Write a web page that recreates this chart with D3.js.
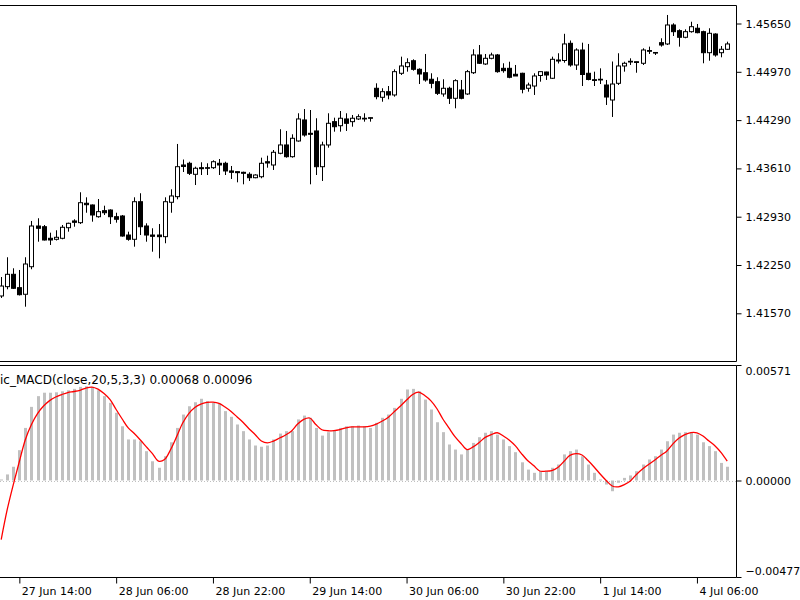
<!DOCTYPE html>
<html><head><meta charset="utf-8">
<script src="https://cdn.jsdelivr.net/npm/d3@7"></script>
<style>body{margin:0;background:#fff}svg{display:block}text{font-family:"DejaVu Sans",sans-serif}</style>
</head><body><svg id="c" width="800" height="600"></svg>
<script>
const opens=[1.41814,1.41945,1.42119,1.41931,1.41838,1.42226,1.42799,1.42789,1.42626,1.42612,1.42626,1.42775,1.42870,1.42846,1.43119,1.43095,1.42930,1.43015,1.43024,1.42930,1.42940,1.42672,1.42612,1.43141,1.42799,1.42672,1.42672,1.42649,1.43133,1.43212,1.43658,1.43682,1.43527,1.43620,1.43620,1.43620,1.43682,1.43682,1.43574,1.43564,1.43555,1.43527,1.43479,1.43493,1.43704,1.43658,1.43823,1.43940,1.43775,1.43996,1.44292,1.44104,1.44137,1.43634,1.43940,1.44268,1.44211,1.44306,1.44268,1.44306,1.44316,1.44324,1.44738,1.44611,1.44690,1.44644,1.44949,1.45042,1.45126,1.45005,1.44957,1.44865,1.44831,1.44658,1.44738,1.44597,1.44714,1.44658,1.44957,1.45207,1.45080,1.45160,1.45207,1.45019,1.45019,1.44935,1.44949,1.44738,1.44770,1.44918,1.44967,1.44879,1.45136,1.45129,1.45371,1.45066,1.45277,1.44949,1.44859,1.44865,1.44784,1.44573,1.44808,1.45052,1.45118,1.45112,1.45090,1.45269,1.45242,1.45380,1.45362,1.45629,1.45549,1.45456,1.45535,1.45583,1.45535,1.45239,1.45502,1.45239,1.45287];
const highs=[1.42081,1.42359,1.42204,1.42180,1.42359,1.42870,1.42908,1.42813,1.42705,1.42739,1.42813,1.42846,1.42894,1.43274,1.43203,1.43102,1.43179,1.43085,1.43034,1.42986,1.42954,1.42719,1.43203,1.43260,1.42837,1.42767,1.42827,1.43203,1.43316,1.43954,1.43735,1.43704,1.43634,1.43696,1.43682,1.43724,1.43742,1.43704,1.43644,1.43564,1.43564,1.43555,1.43527,1.43761,1.43789,1.43869,1.44161,1.44137,1.44090,1.44386,1.44446,1.44432,1.44316,1.43986,1.44386,1.44324,1.44418,1.44386,1.44362,1.44372,1.44386,1.44324,1.44808,1.44738,1.44770,1.45005,1.45183,1.45160,1.45146,1.45019,1.45221,1.44949,1.44893,1.44865,1.44760,1.44865,1.44855,1.44996,1.45287,1.45347,1.45221,1.45239,1.45221,1.45090,1.45112,1.45066,1.44957,1.44817,1.44949,1.44972,1.44972,1.45183,1.45231,1.45505,1.45411,1.45301,1.45380,1.45362,1.44972,1.45019,1.44855,1.45115,1.45231,1.45112,1.45160,1.45112,1.45301,1.45324,1.45242,1.45442,1.45770,1.45653,1.45568,1.45568,1.45675,1.45643,1.45549,1.45583,1.45512,1.45333,1.45394];
const lows=[1.41786,1.41908,1.41912,1.41821,1.41663,1.42190,1.42578,1.42595,1.42532,1.42595,1.42612,1.42719,1.42789,1.42827,1.42986,1.42860,1.42916,1.42954,1.42827,1.42846,1.42649,1.42592,1.42508,1.42672,1.42578,1.42437,1.42344,1.42556,1.42986,1.43175,1.43559,1.43517,1.43376,1.43517,1.43517,1.43602,1.43517,1.43517,1.43461,1.43414,1.43386,1.43433,1.43471,1.43471,1.43620,1.43588,1.43809,1.43761,1.43761,1.43986,1.44057,1.43386,1.43517,1.43433,1.43902,1.44127,1.44127,1.44137,1.44197,1.44292,1.44268,1.44268,1.44583,1.44549,1.44583,1.44620,1.44925,1.44972,1.44986,1.44798,1.44831,1.44738,1.44644,1.44620,1.44517,1.44456,1.44583,1.44644,1.44939,1.45080,1.45066,1.45146,1.44957,1.44957,1.44879,1.44911,1.44667,1.44690,1.44644,1.44831,1.44855,1.44869,1.45087,1.45098,1.45042,1.44996,1.44770,1.44850,1.44770,1.44798,1.44503,1.44334,1.44784,1.44972,1.45066,1.44957,1.45066,1.45221,1.45207,1.45324,1.45347,1.45474,1.45324,1.45442,1.45521,1.45512,1.45090,1.45126,1.45183,1.45174,1.45277];
const closes=[1.41954,1.42119,1.41922,1.41832,1.42264,1.42799,1.42767,1.42602,1.42602,1.42640,1.42781,1.42837,1.42851,1.43127,1.43099,1.42954,1.43001,1.42986,1.42930,1.42894,1.42658,1.42612,1.43141,1.42789,1.42672,1.42654,1.42649,1.43141,1.43222,1.43634,1.43637,1.43541,1.43612,1.43606,1.43612,1.43704,1.43658,1.43574,1.43555,1.43550,1.43541,1.43479,1.43517,1.43682,1.43686,1.43837,1.43940,1.43775,1.44034,1.44306,1.44080,1.44090,1.43634,1.43940,1.44245,1.44197,1.44316,1.44245,1.44316,1.44338,1.44306,1.44316,1.44620,1.44690,1.44644,1.44972,1.45052,1.45098,1.45005,1.44939,1.44855,1.44808,1.44667,1.44738,1.44597,1.44845,1.44597,1.44972,1.45207,1.45090,1.45160,1.45207,1.44972,1.44986,1.44893,1.44911,1.44724,1.44784,1.44911,1.44972,1.44925,1.45146,1.45122,1.45362,1.45066,1.45277,1.44932,1.44862,1.44848,1.44855,1.44615,1.44798,1.45052,1.45090,1.45108,1.45101,1.45277,1.45259,1.45235,1.45347,1.45629,1.45535,1.45456,1.45535,1.45605,1.45521,1.45239,1.45512,1.45207,1.45287,1.45362];
const histValues=[0.00005,0.00030,0.00068,0.00150,0.00260,0.00364,0.00417,0.00434,0.00434,0.00436,0.00441,0.00446,0.00453,0.00463,0.00466,0.00463,0.00446,0.00417,0.00384,0.00335,0.00268,0.00203,0.00203,0.00194,0.00145,0.00095,0.00063,0.00120,0.00189,0.00260,0.00326,0.00367,0.00387,0.00404,0.00392,0.00384,0.00381,0.00343,0.00315,0.00277,0.00244,0.00203,0.00173,0.00167,0.00173,0.00203,0.00232,0.00244,0.00244,0.00302,0.00321,0.00310,0.00260,0.00222,0.00239,0.00249,0.00260,0.00268,0.00268,0.00272,0.00268,0.00260,0.00285,0.00310,0.00326,0.00359,0.00404,0.00450,0.00453,0.00441,0.00400,0.00351,0.00288,0.00239,0.00178,0.00153,0.00129,0.00153,0.00186,0.00214,0.00236,0.00244,0.00227,0.00203,0.00170,0.00140,0.00090,0.00054,0.00038,0.00046,0.00046,0.00063,0.00079,0.00129,0.00145,0.00153,0.00120,0.00079,0.00038,0.00005,-0.00020,-0.00053,-0.00011,0.00013,0.00025,0.00046,0.00079,0.00104,0.00120,0.00153,0.00194,0.00227,0.00236,0.00239,0.00236,0.00227,0.00189,0.00170,0.00145,0.00087,0.00068];
const signalValues=[-0.00292,-0.00143,-0.00020,0.00094,0.00203,0.00277,0.00331,0.00368,0.00395,0.00413,0.00425,0.00435,0.00440,0.00446,0.00457,0.00462,0.00452,0.00430,0.00400,0.00351,0.00304,0.00260,0.00232,0.00200,0.00166,0.00133,0.00096,0.00104,0.00153,0.00217,0.00284,0.00331,0.00361,0.00378,0.00386,0.00387,0.00381,0.00363,0.00341,0.00314,0.00287,0.00255,0.00226,0.00195,0.00186,0.00195,0.00210,0.00225,0.00245,0.00279,0.00302,0.00309,0.00277,0.00251,0.00246,0.00247,0.00252,0.00260,0.00265,0.00265,0.00265,0.00269,0.00279,0.00294,0.00313,0.00341,0.00368,0.00398,0.00425,0.00437,0.00420,0.00395,0.00356,0.00304,0.00260,0.00217,0.00183,0.00153,0.00166,0.00188,0.00213,0.00227,0.00236,0.00220,0.00199,0.00171,0.00133,0.00099,0.00074,0.00047,0.00046,0.00049,0.00064,0.00094,0.00124,0.00133,0.00126,0.00099,0.00067,0.00032,0.00000,-0.00027,-0.00031,-0.00020,-0.00002,0.00030,0.00057,0.00079,0.00100,0.00124,0.00145,0.00180,0.00209,0.00227,0.00237,0.00236,0.00220,0.00195,0.00171,0.00138,0.00096];
const priceTicks=[1.41570,1.42250,1.42930,1.43610,1.44290,1.44970,1.45650];
const macdTicks=[-0.00477,0.00000,0.00571];
const timeTickIndex=[3,19,35,51,67,83,99,115];
const timeTickLabels=["27 Jun 14:00","28 Jun 06:00","28 Jun 22:00","29 Jun 14:00","30 Jun 06:00","30 Jun 22:00","1 Jul 14:00","4 Jul 06:00"];
const indicatorLabel="ic_MACD(close,20,5,3,3) 0.00068 0.00096";

const svg=d3.select("#c");
const n=opens.length;
const R=736.5, P1T=5.5, P1B=361.5, P2T=365.5, P2B=577.5;
const x=d3.scaleLinear().domain([0,n-1]).range([1.2,727.2]);
const yP=d3.scaleLinear().domain([priceTicks[0],priceTicks[priceTicks.length-1]]).range([313.3,23.5]);
const yM=d3.scaleLinear().domain([macdTicks[0],macdTicks[2]]).range([577,365]);

svg.append("rect").attr("width",800).attr("height",600).attr("fill","#fff");
const defs=svg.append("defs");
defs.append("clipPath").attr("id","cp1").append("rect").attr("x",0).attr("y",P1T).attr("width",R).attr("height",P1B-P1T);
defs.append("clipPath").attr("id","cp2").append("rect").attr("x",0).attr("y",P2T).attr("width",R).attr("height",P2B-P2T);

// candles
const idx=d3.range(n);
const gC=svg.append("g").attr("clip-path","url(#cp1)");
gC.selectAll("line.w").data(idx).join("line").attr("class","w")
  .attr("x1",i=>Math.round(x(i))+0.5).attr("x2",i=>Math.round(x(i))+0.5)
  .attr("y1",i=>yP(highs[i])).attr("y2",i=>yP(lows[i]))
  .attr("stroke","#000").attr("stroke-width",1);
gC.selectAll("rect.b").data(idx).join("rect").attr("class","b")
  .attr("x",i=>Math.round(x(i))-1.5).attr("width",4)
  .attr("y",i=>yP(Math.max(opens[i],closes[i])))
  .attr("height",i=>Math.max(0.6,Math.abs(yP(opens[i])-yP(closes[i]))))
  .attr("fill",i=>closes[i]>=opens[i]?"#fff":"#000")
  .attr("stroke","#000").attr("stroke-width",1);

// MACD
const gM=svg.append("g").attr("clip-path","url(#cp2)");
gM.append("line").attr("x1",0).attr("x2",R).attr("y1",Math.round(yM(0))+0.5).attr("y2",Math.round(yM(0))+0.5)
  .attr("stroke","#c0c0c0").attr("stroke-dasharray","1,2");
gM.selectAll("rect.h").data(idx).join("rect").attr("class","h")
  .attr("x",i=>Math.round(x(i))-1).attr("width",3)
  .attr("y",i=>Math.min(yM(0),yM(histValues[i])))
  .attr("height",i=>Math.abs(yM(histValues[i])-yM(0)))
  .attr("fill","#c0c0c0");
gM.append("path").datum(idx)
  .attr("d",d3.line().x(i=>x(i)).y(i=>yM(signalValues[i])).curve(d3.curveCatmullRom))
  .attr("fill","none").attr("stroke","#ff0000").attr("stroke-width",1.3);
svg.append("text").attr("x",0).attr("y",384).attr("font-size",12).attr("fill","#000").text(indicatorLabel);

// frames
const fr=svg.append("g").attr("stroke","#000").attr("stroke-width",1).attr("fill","none");
fr.append("path").attr("d",`M0,${P1T}H${R}V${P1B}H0`);
fr.append("path").attr("d",`M0,${P2T}H${R}V${P2B}H0`);

// price axis
const ax1=svg.append("g").attr("transform",`translate(${R},0)`)
  .call(d3.axisRight(yP).tickValues(priceTicks).tickFormat(d3.format(".5f")).tickSize(5).tickPadding(4));
// macd axis
const ax2=svg.append("g").attr("transform",`translate(${R},0)`)
  .call(d3.axisRight(yM).tickValues(macdTicks).tickFormat(d3.format(".5f")).tickSize(5).tickPadding(4));
ax2.selectAll(".tick text").attr("dy",(d)=>d===macdTicks[2]?"0.9em":(d===macdTicks[0]?"-0.2em":"0.32em"));
// time axis
const ax3=svg.append("g").attr("transform",`translate(0,${P2B})`)
  .call(d3.axisBottom(x).tickValues(timeTickIndex).tickFormat((d,i)=>timeTickLabels[i]).tickSize(6).tickPadding(4));
ax3.selectAll(".tick text").attr("text-anchor","start").attr("x",2);
[ax1,ax2,ax3].forEach(a=>{a.select(".domain").remove();a.selectAll("text").attr("font-size",11).attr("font-family","DejaVu Sans").attr("fill","#000");a.selectAll("line").attr("stroke","#000");});
</script></body></html>
